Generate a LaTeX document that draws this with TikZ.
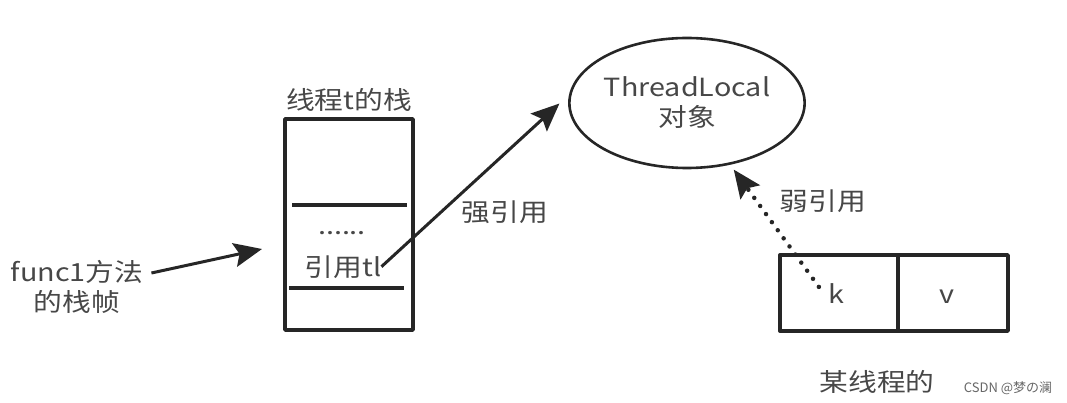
\documentclass[tikz,border=0pt]{standalone}
\usepackage{fontspec}
\setmainfont{Noto Sans CJK SC}
\usetikzlibrary{arrows.meta,shapes.geometric,positioning}
\newcommand{\wtxt}[1]{\scalebox{1.15}[1]{#1}}
\begin{document}
\begin{tikzpicture}[x=1pt, y=-1pt, line join=round]
% Thread stack and ThreadLocal entry, sizes in px of the sketch
\providecommand{\tlLineColor}{black!85}
\providecommand{\tlTextColor}{black!72}
\providecommand{\tlBoxLineWidth}{3.4pt}
\providecommand{\tlArrowLineWidth}{3pt}
\tikzset{
  lbl/.style={text=\tlTextColor, font=\fontsize{25}{30}\selectfont, inner sep=0pt},
  box/.style={draw=\tlLineColor, line width=\tlBoxLineWidth, outer sep=0pt, inner sep=0pt},
  strongref/.style={draw=\tlLineColor, line width=\tlArrowLineWidth,
    -{Stealth[length=28pt, width=24pt, inset=5pt]}},
  weakref/.style={draw=\tlLineColor, line width=4.5pt, line cap=round,
    dash pattern=on 0pt off 10pt,
    -{Stealth[length=28pt, width=24pt, inset=5pt, line width=3pt]}},
}
\useasboundingbox (0,0) rectangle (1067,403);
% Stack of thread t
\node[box, minimum width=128pt, minimum height=211pt] (stack) at (349,224.5) {};
\node[lbl, above=7pt of stack] (stacktitle) {\wtxt{线程t的栈}};
\draw[draw=\tlLineColor, line width=\tlBoxLineWidth] (292,205) -- (407,205);
\draw[draw=\tlLineColor, line width=\tlBoxLineWidth] (289,288) -- (404,288);
\node[lbl, anchor=base] (dots) at (342,235) {\wtxt{......}};
\node[lbl, anchor=base] (reftl) at (343,276) {\wtxt{引用tl}};
% Frame of func1
\node[lbl, align=center] (func) at (77,287) {\wtxt{func1方法}\\\wtxt{的栈帧}};
\coordinate (fend) at ([xshift=-23pt, yshift=-24.5pt]stack.west);
\draw[strongref] ([xshift=8pt, yshift=14pt]func.east) -- (fend);
% ThreadLocal object
\node[ellipse, draw=\tlLineColor, line width=2.6pt, minimum width=230pt, minimum height=130pt,
  lbl, align=center] (tl) at (687,103) {\wtxt{ThreadLocal}\\\wtxt{对象}};
\draw[strongref, shorten >=13pt] (reftl.east) -- (tl.176);
\node[lbl, anchor=base] (strong) at (505,222) {\wtxt{强引用}};
% Entry k | v
\node[box, minimum width=118pt, minimum height=76pt] (kcell) at (839,293) {};
\node[box, minimum width=110pt, minimum height=76pt, right=0pt of kcell] (vcell) {};
\node[lbl, anchor=base] (k) at (836,303) {\wtxt{k}};
\node[lbl, anchor=base] (v) at (947,303) {\wtxt{v}};
\coordinate (kfrom) at ([xshift=-9pt, yshift=-4pt]k.north west);
\draw[weakref, shorten >=6pt] (kfrom) -- (tl.305);
\node[lbl, anchor=base] (weak) at (823,211) {\wtxt{弱引用}};
\node[lbl, anchor=base] (owner) at (877,391) {\wtxt{某线程的}};
% Watermark
\node[text=black!60, font=\fontsize{13}{15}\selectfont, inner sep=0pt, anchor=base]
  (mark) at (1008,392) {CSDN @梦の澜};
\end{tikzpicture}
\end{document}
